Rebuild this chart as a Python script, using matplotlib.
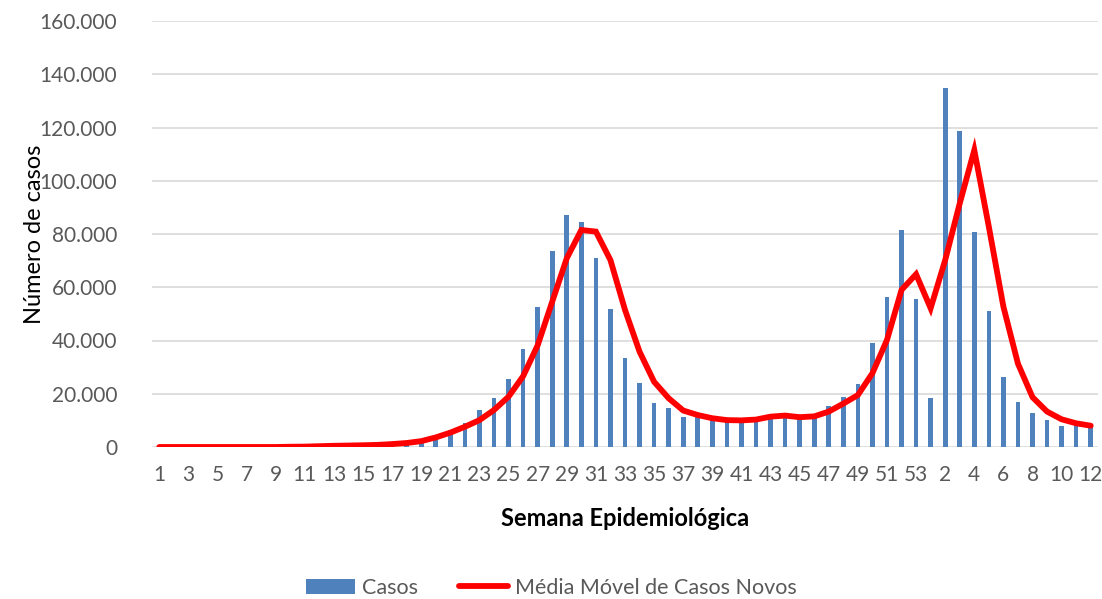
import matplotlib.pyplot as plt
import numpy as np
from matplotlib.ticker import FuncFormatter

plt.rcParams['font.family'] = ['Lato', 'DejaVu Sans']

# semanas epidemiologicas: 1..53 de um ano e 1..12 do seguinte
semanas = [str(s) for s in range(1, 54)] + [str(s) for s in range(1, 13)]

casos = [0, 0, 0, 0, 0, 0, 0, 0, 0, 0,
         100, 200, 300, 400, 500, 600, 900, 1300, 3000, 4400,
         6400, 9000, 14000, 18300, 25500, 36800, 52500, 73500, 87000, 84500,
         71000, 52000, 33500, 23900, 16500, 14600, 11100, 11500, 10500, 10000,
         10000, 10000, 11000, 11500, 10500, 11000, 15500, 18900, 23500, 39000,
         56300, 81500, 55600,
         18300, 134700, 118800, 80600, 51200, 26400, 17000, 12900, 10100, 8000,
         8300, 7800]

media_movel = [0, 0, 0, 0, 0, 0, 0, 0, 0, 100,
               150, 300, 450, 550, 650, 800, 1100, 1500, 2200, 3600,
               5400, 7600, 10100, 13900, 18900, 26600, 38200, 54600, 70900, 81500,
               80900, 70200, 51500, 35800, 24500, 18300, 13700, 12000, 10800, 10100,
               10000, 10300, 11400, 11800, 11200, 11500, 13300, 16300, 19500, 27700,
               40200, 59000, 64900,
               52100, 70200, 91500, 111500, 82700, 52700, 31300, 18700, 13300, 10400,
               8900, 8000]

x = np.arange(len(semanas))

fig = plt.figure(figsize=(11.02, 5.99), dpi=100)
ax = fig.add_axes([152 / 1102, 1 - 447 / 599, (1098 - 152) / 1102, (447 - 21) / 599])

barras = ax.bar(x, casos, width=0.32, color='#4F81BD', label='Casos', zorder=2)
linha, = ax.plot(x, media_movel, color='#FF0000', lw=4.2, label='Média Móvel de Casos Novos',
                 solid_capstyle='round', solid_joinstyle='miter', zorder=3)

ax.set_xlim(-0.5, len(semanas) - 0.5)
ax.set_ylim(0, 160000)
ax.set_yticks(np.arange(0, 160001, 20000))
ax.yaxis.set_major_formatter(FuncFormatter(lambda v, p: '{:,.0f}'.format(v).replace(',', '.')))
ax.set_xticks(x[::2])
ax.set_xticklabels(semanas[::2])

ax.grid(axis='y', color='#D9D9D9', lw=1.2, zorder=0)
for s in ax.spines.values():
    s.set_visible(False)
ax.tick_params(axis='both', length=0, labelsize=15, colors='#595959')
ax.tick_params(axis='x', pad=13)
ax.tick_params(axis='y', pad=25)

ax.set_xlabel('Semana Epidemiológica', fontsize=17, fontweight='bold', labelpad=16)
ax.set_ylabel('Número de casos', fontsize=17, labelpad=-4)

fig.legend([barras, linha], ['Casos', 'Média Móvel de Casos Novos'],
           loc='lower center', ncol=2, frameon=False, fontsize=15.5,
           bbox_to_anchor=(0.5, -0.03), handlelength=2.3, columnspacing=1.9,
           labelcolor='#595959', handletextpad=0.3)

fig.savefig('out.png', dpi=100)
